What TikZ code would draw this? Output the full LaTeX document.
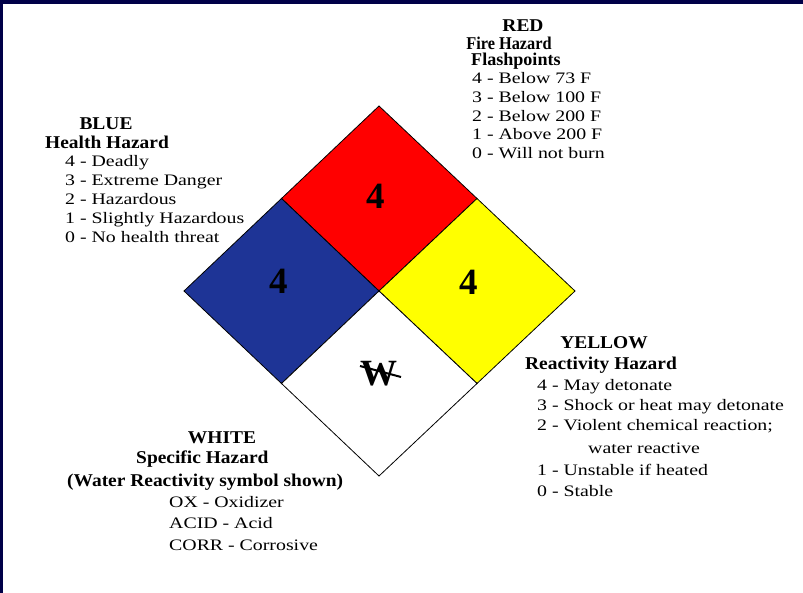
\documentclass[tikz,border=0pt]{standalone}
\usepackage{fontspec}
\usepackage{graphicx}
\newfontfamily\rgf[FakeStretch=1.24]{Liberation Serif}
\newfontfamily\hdf[FakeStretch=1.08]{Liberation Serif}
\newfontfamily\numf{Liberation Serif}
\definecolor{frame}{RGB}{0,0,72}
\definecolor{hzblue}{RGB}{30,52,150}
\definecolor{hzred}{RGB}{255,0,0}
\definecolor{hzyellow}{RGB}{255,255,0}
\tikzset{
  item/.style={anchor=base west, inner sep=0pt, font=\rgf\fontsize{16}{18}\selectfont},
  itemc/.style={anchor=base, inner sep=0pt, font=\rgf\fontsize{16}{18}\selectfont},
  head/.style={anchor=base west, inner sep=0pt, font=\hdf\bfseries\fontsize{18}{20}\selectfont},
  headc/.style={anchor=base, inner sep=0pt, font=\hdf\bfseries\fontsize{18}{20}\selectfont},
  num/.style={anchor=base, inner sep=0pt, font=\numf\bfseries\fontsize{37}{40}\selectfont},
  panel/.style={draw=black, line width=0.8pt, line join=miter},
}
\begin{document}
\begin{tikzpicture}[x=1pt,y=-1pt]
\useasboundingbox (0,0) rectangle (803,593);
\fill[white] (0,0) rectangle (803,593);
% frame (top and left)
\fill[frame] (0,0) rectangle (803,4);
\fill[frame] (0,0) rectangle (3,593);

% diamond points
\coordinate (T) at (379,106);
\coordinate (B) at (379,476);
\coordinate (L) at (184,291);
\coordinate (R) at (575,291);
\coordinate (C) at (379,291);
\coordinate (TL) at (281.5,198.5);
\coordinate (TR) at (477,198.5);
\coordinate (BL) at (281.5,383.5);
\coordinate (BR) at (477,383.5);

\filldraw[panel, fill=hzred] (T) -- (TR) -- (C) -- (TL) -- cycle;
\filldraw[panel, fill=hzblue] (TL) -- (C) -- (BL) -- (L) -- cycle;
\filldraw[panel, fill=hzyellow] (TR) -- (R) -- (BR) -- (C) -- cycle;
\filldraw[panel, fill=white] (C) -- (BR) -- (B) -- (BL) -- cycle;

% numbers
\node[num] (nred) at (376,209) {4};
\node[num] (nblue) at (279,294) {4};
\node[num] (nyel) at (469,295) {4};
\node[num] (nw) at (379,385) {W};
\coordinate (ws) at (360,366);
\coordinate (we) at (401,377);
\draw[line width=2pt] (ws) -- (we);

% RED
\node[headc] (redt) at (523,31.7) {RED};
\node[headc] (red1) at (509,49.3) {\scalebox{0.84}[1]{Fire Hazard}};
\node[head] (red2) at (471,65.5) {\scalebox{0.93}[1]{Flashpoints}};
\node[item] (red3) at (472,84) {4 - Below 73 F};
\node[item] (red4) at (472,102.7) {3 - Below 100 F};
\node[item] (red5) at (472,121.4) {2 - Below 200 F};
\node[item] (red6) at (472,140) {1 - Above 200 F};
\node[item] (red7) at (472,158.7) {0 - Will not burn};

% BLUE
\node[headc] (bluet) at (106,129.3) {BLUE};
\node[head] (blue1) at (45,148.3) {Health Hazard};
\node[item] (blue2) at (65,166.7) {4 - Deadly};
\node[item] (blue3) at (65,186) {3 - Extreme Danger};
\node[item] (blue4) at (65,205) {2 - Hazardous};
\node[item] (blue5) at (65,224) {1 - Slightly Hazardous};
\node[item] (blue6) at (65,242.7) {0 - No health threat};

% YELLOW
\node[headc] (yelt) at (604,348.3) {YELLOW};
\node[head] (yel1) at (525,369.3) {Reactivity Hazard};
\node[item] (yel2) at (537,390.7) {4 - May detonate};
\node[item] (yel3) at (537,410.7) {3 - Shock or heat may detonate};
\node[item] (yel4) at (537,430.7) {2 - Violent chemical reaction;};
\node[item] (yel5) at (588,453.3) {water reactive};
\node[item] (yel6) at (537,475) {1 - Unstable if heated};
\node[item] (yel7) at (537,496.7) {0 - Stable};

% WHITE
\node[headc] (whtt) at (222,443.3) {WHITE};
\node[head] (wht1) at (136,463.3) {Specific Hazard};
\node[head] (wht2) at (67,486.7) {(Water Reactivity symbol shown)};
\node[item] (wht3) at (169,507.3) {OX - Oxidizer};
\node[item] (wht4) at (169,528.3) {ACID - Acid};
\node[item] (wht5) at (169,550) {CORR - Corrosive};
\end{tikzpicture}
\end{document}
